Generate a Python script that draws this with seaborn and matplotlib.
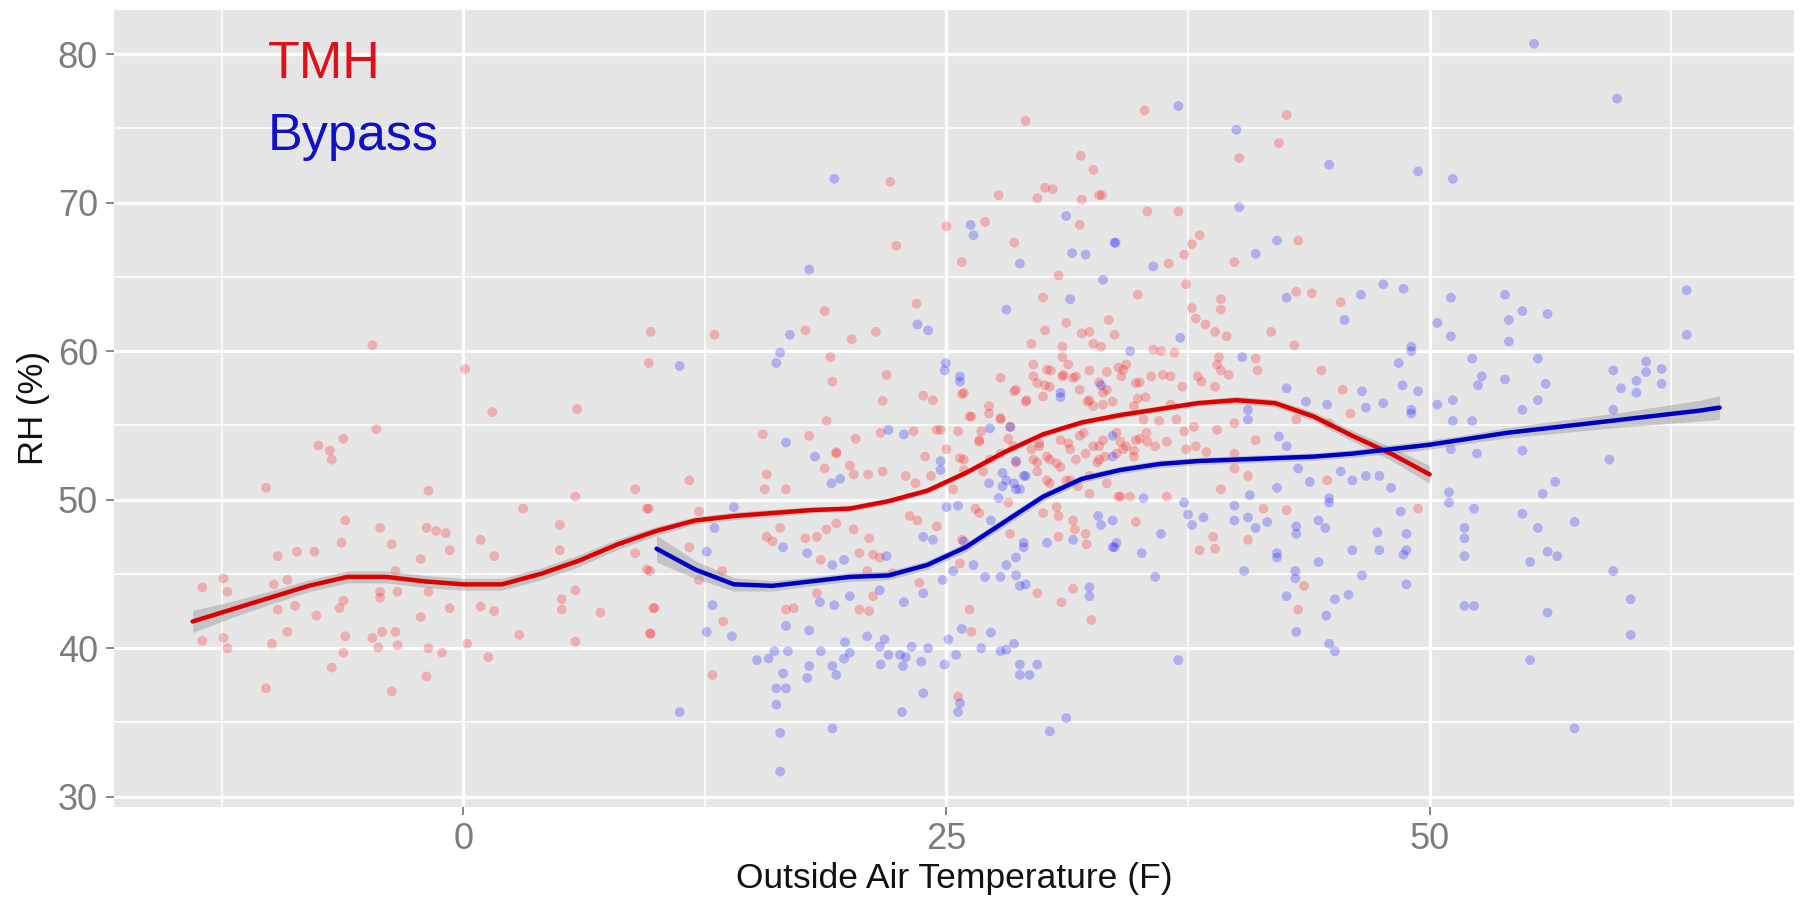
import matplotlib
matplotlib.use("Agg")
import matplotlib.pyplot as plt
import seaborn as sns
import pandas as pd
import numpy as np
from matplotlib.ticker import MultipleLocator

# ---------------- data ----------------
tmh_x = [1.5, 5.9, -4.5, -7.5, -6.9, -6.8, -6.2, -10.2, -1.8, 3.1, 5.8, 8.9, 9.5, -6.1, -4.3, -1.9, -1.4, -0.9,
         -6.3, -3.7, -9.6, -8.6, -7.7, -0.7, -2.2, 0.9, 1.6, 5.0, 5.0, 8.9, 9.5, -13.5, -12.4, -12.2, -9.1, -9.8,
         -3.5, -4.3, -4.3, -3.4, -1.8, -6.2, -6.4, -9.6, -8.7, -7.6, -2.2, -0.7, 0.9, 1.6, 5.1, 5.1, 5.8, 7.1, 9.9,
         -13.5, -12.4, -12.2, -9.9, -9.1, -6.1, -6.2, -4.7, -4.2, -3.5, -4.4, -3.4, -1.8, -1.1, 0.2, 1.3, 2.9, 5.8,
         9.7, -6.8, -1.9, -10.2, -3.7, -4.7, 0.1, 9.6, 9.7,
         29.1, 31.95, 32.6, 22.1, 30.1, 30.5, 27.7, 29.7, 32.0, 32.9, 31.9, 25.0, 27.0, 22.4, 28.5, 18.7, 13.0,
         17.7, 20.1, 21.35, 19.0, 19.1, 21.9, 21.7, 18.8, 15.5, 17.9, 20.3, 21.6, 19.3,
         18.7, 19.3, 20.0, 20.95, 21.7, 20.2, 15.7, 15.6, 16.7, 11.7, 9.6, 12.2, 11.7, 9.66, 9.83, 9.66, 12.2,
         13.4, 13.45, 12.9, 15.7, 16.0, 16.4, 17.7, 18.3, 18.8, 19.3, 20.2, 21.0, 18.5, 20.5, 21.2, 21.55, 20.9,
         22.2, 25.7, 29.7, 30.95, 31.55, 32.5, 23.6, 21.2, 20.5, 21.0, 18.3, 16.7, 17.1, 26.3, 26.2, 25.6,
         25.8, 30.8, 36.5, 37.3, 37.4, 23.45, 30.0, 34.9, 37.7, 37.9, 38.4, 38.9, 31.2, 33.4, 30.1, 32.0, 32.4,
         33.7, 29.4, 31.0, 32.6, 33.0, 35.7, 36.1, 36.8, 39.0, 25.8, 23.8, 24.3, 27.8, 28.5, 29.1, 29.5, 29.5,
         30.1, 30.4, 31.0, 31.3, 31.0, 31.55, 31.9, 32.3, 32.6, 33.1, 33.3, 33.9, 34.3, 34.05, 35.0, 35.3, 36.2,
         36.6, 35.6, 37.2, 38.0, 38.2, 38.9, 27.2, 27.2, 26.3, 27.8, 28.3, 33.6, 34.9, 34.7, 36.6, 35.2, 36.0,
         36.9, 37.8, 37.3, 39.0, 23.3, 24.5, 24.7, 25.6, 26.7, 26.8, 25.0, 23.9, 25.7, 25.9, 28.2, 28.45, 27.8,
         29.4, 29.8, 30.9, 31.3, 30.35, 30.7, 29.7, 31.9, 32.2, 32.9, 33.2, 32.8, 34.0, 34.3, 34.7, 35.0, 35.4,
         35.8, 36.4, 37.4, 37.9, 38.45, 22.9, 23.4, 24.2, 25.35, 26.9, 29.7, 30.2, 31.4, 31.8, 32.4, 33.3, 33.9,
         34.5, 36.4, 26.5, 26.7, 28.2, 23.1, 23.5, 24.5, 25.8, 28.3, 30.0, 30.7, 30.8, 31.55, 31.65, 30.8, 32.2,
         34.0, 34.8, 38.8, 32.25,
         35.25, 42.6, 42.2, 40.15, 33.05, 35.4, 37.0, 38.1, 37.7, 39.9, 43.2, 39.2, 39.2, 39.5, 43.1, 43.9, 45.4,
         41.8, 43.0, 39.1, 39.2, 39.6, 41.0, 41.1, 44.4, 45.5, 43.1, 44.8, 45.9, 39.9, 41.0, 39.9, 40.6, 39.9,
         49.4, 44.7, 39.2, 43.2, 43.5, 38.1, 38.9, 40.6, 41.4, 42.6,
         25.9, 28.6, 30.2, 31.05, 31.7, 32.4, 32.9, 33.3, 34.15, 34.8, 32.4, 33.1, 29.15, 30.0, 27.8, 26.7,
         26.2, 29.8, 31.4, 32.1, 32.6, 33.1, 33.8, 34.15, 34.8, 35.35, 28.6, 29.5, 30.2, 30.9, 31.7, 32.9, 33.8,
         34.7, 27.25, 25.9, 30.35, 31.2, 32.4, 29.7, 30.35]
tmh_y = [55.9, 56.1, 54.75, 53.65, 53.3, 52.7, 54.1, 50.8, 50.6, 49.4, 50.2, 50.7, 49.4, 48.6, 48.1, 48.1, 47.9,
         47.75, 47.1, 47.0, 46.2, 46.5, 46.5, 46.6, 46.0, 47.3, 46.2, 48.3, 46.6, 46.4, 45.3, 44.1, 44.7, 43.8,
         44.6, 44.3, 45.2, 43.8, 43.4, 43.8, 43.8, 43.2, 42.7, 42.6, 42.85, 42.2, 42.1, 42.7, 42.8, 42.5, 43.3,
         42.6, 43.9, 42.4, 42.7, 40.5, 40.7, 40.0, 40.3, 41.1, 40.8, 39.7, 40.7, 41.1, 41.1, 40.05, 40.2, 40.0,
         39.7, 40.3, 39.4, 40.9, 40.45, 40.97, 38.7, 38.1, 37.3, 37.1, 60.4, 58.8, 59.2, 61.3,
         75.5, 73.15, 72.2, 71.4, 71.0, 70.9, 70.5, 70.3, 70.2, 70.5, 68.5, 68.4, 68.7, 67.1, 67.3, 62.7, 61.1,
         61.4, 60.8, 61.3, 59.6, 57.95, 58.4, 56.65, 55.3, 54.4, 54.3, 54.1, 54.5, 53.2,
         52.1, 53.1, 52.3, 51.7, 51.9, 51.7, 51.7, 50.7, 50.7, 51.3, 49.4, 49.2, 46.8, 45.2, 42.7, 41.0, 44.6,
         45.2, 41.8, 38.2, 47.5, 47.2, 48.1, 47.4, 47.5, 48.0, 48.4, 48.0, 47.4, 45.95, 46.4, 46.3, 46.1, 45.2,
         45.05, 45.7, 43.7, 43.1, 44.0, 41.9, 44.4, 43.5, 42.6, 42.5, 43.7, 42.6, 42.7, 41.1, 42.6, 36.75,
         66.0, 65.1, 65.9, 66.5, 64.5, 63.2, 63.6, 63.8, 62.9, 62.2, 61.8, 61.3, 61.9, 62.1, 61.4, 61.2, 61.3,
         61.1, 60.5, 60.3, 60.5, 60.3, 60.1, 60.0, 59.9, 59.1, 57.1, 57.0, 56.7, 58.2, 57.3, 56.6, 59.1, 58.3,
         57.7, 58.7, 58.3, 59.1, 59.6, 58.2, 57.4, 56.6, 56.3, 57.2, 58.6, 58.9, 59.1, 58.3, 57.9, 56.9, 58.4,
         58.3, 58.3, 57.6, 58.3, 57.95, 57.6, 56.3, 55.8, 55.6, 55.5, 54.9, 56.6, 56.8, 56.3, 56.4, 55.4, 55.3,
         55.4, 54.9, 54.6, 54.7, 54.6, 54.7, 54.7, 54.6, 53.9, 54.6, 53.4, 52.9, 52.8, 52.0, 54.1, 53.6, 53.1,
         53.4, 53.6, 54.0, 53.8, 52.7, 52.45, 52.5, 54.3, 53.1, 53.6, 52.9, 52.5, 53.9, 53.6, 53.3, 54.1, 53.9,
         53.6, 53.9, 53.4, 53.6, 53.2, 51.6, 51.1, 51.6, 50.7, 51.9, 51.9, 51.3, 51.3, 50.9, 50.4, 51.1, 50.2,
         50.2, 50.2, 49.4, 49.1, 49.8, 48.9, 48.6, 48.2, 47.3, 47.7, 49.1, 49.5, 48.9, 48.6, 48.0, 47.5, 47.7,
         50.2, 48.5, 47.5, 47.0,
         76.2, 75.9, 74.0, 73.0, 70.5, 69.4, 69.4, 67.8, 67.2, 66.0, 67.45, 63.5, 62.8, 61.0, 64.0, 63.9, 63.3,
         61.3, 60.4, 59.6, 58.7, 58.4, 59.5, 58.7, 58.7, 57.4, 55.4, 55.15, 55.8, 55.15, 54.0, 53.1, 51.6, 52.1,
         49.4, 51.3, 50.7, 42.6, 44.2, 46.6, 46.7, 47.3, 49.4, 49.3,
         57.2, 57.4, 58.75, 58.4, 58.3, 58.7, 57.9, 57.4, 58.75, 57.85, 56.7, 56.4, 56.7, 56.95, 55.4, 54.0,
         55.6, 53.8, 53.4, 54.5, 53.6, 54.0, 54.5, 53.4, 54.0, 54.5, 52.5, 52.7, 52.9, 52.2, 52.7, 52.7, 53.1,
         52.9, 52.7, 52.7, 51.1, 51.3, 51.6, 57.85, 57.6]

byp_x = [19.2, 31.2, 26.25, 26.4, 33.7, 17.9, 16.9, 11.2, 16.4, 16.2, 16.7, 18.2, 22.0,
         19.05, 19.5, 14.0, 13.0, 12.6, 12.9, 12.6, 13.9, 11.2, 16.55, 17.8, 19.1, 19.7, 21.9, 24.8, 25.35, 26.4,
         27.0, 27.8, 28.6, 28.1, 28.8, 29.1, 28.6, 32.4, 32.4, 23.8, 22.8, 21.55, 19.2, 20.0, 16.7, 17.9, 18.45,
         15.2, 15.8, 16.1, 16.8, 16.55, 16.2, 16.7, 16.2, 16.4, 16.4, 17.8, 17.9, 18.5, 19.1, 19.3, 19.7, 20.0,
         19.75, 19.1, 20.9, 21.55, 21.8, 21.6, 22.0, 22.6, 22.9, 22.75, 23.2, 23.7, 24.05, 23.8, 22.7, 25.1, 25.8,
         25.5, 24.9, 25.7, 25.6, 27.3, 26.8, 27.8, 28.1, 28.5, 28.8, 29.7, 28.8, 29.3, 30.35, 31.2, 29.0, 31.55,
         33.6, 25.9,
         28.8, 31.5, 32.2, 33.1, 35.7, 23.5, 24.05, 28.1, 31.4, 37.1, 34.5, 24.97, 24.9, 25.7, 25.7, 30.9, 33.0,
         22.8, 33.6, 24.7, 24.7, 28.6, 33.6, 27.2, 28.1, 28.5, 28.8, 29.1, 35.2, 37.3, 25.0, 25.6, 27.7, 27.3,
         23.8, 24.3, 29.0, 32.85, 33.0, 33.6, 36.1, 37.5, 37.7, 38.3, 30.2, 33.8,
         37.0, 40.0, 44.8, 49.4, 51.2, 59.7, 40.15, 33.75, 41.0, 42.1, 42.6, 46.45, 47.6, 48.65, 45.6, 51.1,
         50.4, 51.1, 49.05, 49.05, 53.9, 54.8, 54.1, 56.1, 54.1, 63.3, 63.3, 40.3, 48.4, 52.2, 55.6, 52.7, 52.5,
         53.9, 56.0, 59.5, 61.2, 61.2, 62.0, 60.7, 59.9, 62.0, 60.7, 48.6, 49.4, 46.5, 47.6, 46.7, 49.05, 49.05,
         50.4, 51.2, 51.2, 52.2, 54.8, 55.6, 59.5, 43.6, 44.7, 42.6, 40.6, 40.6, 42.2, 42.6, 43.2, 55.4,
         51.1, 52.45, 54.8, 59.3, 56.5, 55.85, 51.0, 51.0, 52.3, 54.8, 55.6, 57.5, 51.8, 51.8, 51.8, 56.1, 56.6,
         55.2, 59.5, 60.4, 51.8, 52.3, 56.1, 60.4, 55.2, 57.5, 48.5, 48.8, 47.3, 48.8, 48.65, 47.4, 46.0, 48.8,
         46.5, 45.8, 45.1, 44.65, 43.1, 44.8, 45.1, 42.6, 43.05, 43.05, 44.25, 42.1, 42.1, 40.4, 37.0, 35.8,
         35.1, 33.7, 39.9, 40.6, 41.0, 41.6, 43.1, 43.1, 44.25, 44.6, 47.4, 48.0, 46.7, 46.0, 45.4, 44.8, 44.8,
         43.8, 42.1, 40.7, 39.9,
         30.9, 28.3, 27.25, 27.9, 29.0, 27.9, 28.6]
byp_y = [71.6, 69.1, 68.5, 67.8, 67.3, 65.5, 61.1, 59.0, 59.9, 59.2, 53.85, 52.9, 54.7,
         51.1, 51.4, 49.5, 48.1, 46.5, 42.9, 41.1, 40.8, 35.7, 46.8, 46.4, 45.6, 45.95, 46.2, 44.6, 45.2, 45.6,
         44.8, 44.8, 44.9, 45.6, 44.2, 44.3, 46.1, 44.1, 43.5, 43.7, 43.1, 43.9, 42.9, 43.5, 41.5, 41.2, 43.1,
         39.2, 39.3, 39.8, 39.8, 38.3, 37.3, 37.3, 36.2, 34.3, 31.7, 38.0, 38.8, 39.8, 38.8, 38.2, 39.3, 39.7,
         40.4, 34.6, 40.8, 40.1, 40.6, 38.9, 39.55, 39.55, 39.4, 38.8, 40.1, 39.1, 40.0, 36.97, 35.7, 40.6, 41.3,
         39.55, 38.9, 36.3, 35.7, 41.05, 40.0, 39.8, 39.9, 40.3, 38.9, 38.9, 38.2, 38.2, 34.4, 35.3, 46.8, 47.3,
         46.8, 47.2,
         65.9, 66.6, 66.5, 64.8, 65.7, 61.8, 61.4, 62.8, 63.5, 60.9, 60.0, 59.2, 58.7, 58.3, 57.95, 56.9, 57.7,
         54.4, 54.3, 52.6, 52.0, 52.6, 52.9, 51.1, 51.3, 51.1, 50.7, 51.6, 50.1, 49.8, 49.5, 49.6, 50.1, 48.6,
         47.5, 47.3, 47.1, 48.9, 48.3, 48.6, 47.7, 49.0, 48.3, 48.8, 47.1, 47.1,
         76.5, 74.9, 72.55, 72.1, 71.6, 77.0, 69.7, 67.3, 66.55, 67.45, 63.6, 63.8, 64.5, 64.2, 62.1, 63.6,
         61.9, 61.0, 60.3, 60.0, 63.8, 62.7, 62.1, 62.5, 60.65, 64.1, 61.1, 59.6, 59.2, 59.5, 59.5, 58.3, 57.7,
         58.1, 57.8, 58.7, 59.3, 58.6, 58.8, 58.0, 57.5, 57.8, 57.2, 57.7, 57.3, 57.3, 56.5, 56.2, 56.05, 55.8,
         56.4, 56.7, 55.3, 55.3, 56.05, 56.7, 56.05, 56.6, 56.4, 57.5, 56.05, 55.4, 54.25, 53.6, 52.1, 80.7,
         53.4, 53.1, 53.3, 52.7, 51.2, 50.4, 50.5, 49.8, 49.4, 49.05, 48.1, 48.5, 48.1, 47.4, 46.2, 46.5, 46.2,
         45.8, 45.2, 43.3, 42.85, 42.85, 42.4, 40.9, 39.2, 34.6, 49.2, 47.7, 47.8, 46.6, 46.3, 46.6, 46.6, 44.3,
         44.9, 43.6, 43.3, 42.2, 41.1, 40.3, 39.8, 43.5, 45.2, 44.7, 45.8, 46.4, 46.1, 45.2, 39.2, 44.8,
         46.4, 46.8, 48.6, 48.8, 48.1, 48.5, 48.2, 47.7, 48.6, 48.1, 51.6, 50.8, 51.6, 51.3, 51.9, 50.1, 49.8,
         51.2, 50.8, 50.3, 49.6,
         57.2, 54.9, 54.8, 51.8, 51.6, 50.9, 50.7]

# smoothed (loess) curves and their confidence half-widths
tmh_fit_x = [-14, -12, -10, -8, -6, -4, -2, 0, 2, 4, 6, 8, 10, 12, 14, 16, 18, 20, 22, 24, 26, 28, 30,
             32, 34, 36, 38, 40, 42, 44, 46, 48, 50]
tmh_fit_y = [41.8, 42.6, 43.4, 44.2, 44.8, 44.8, 44.5, 44.3, 44.3, 45.0, 45.9, 47.0, 47.9, 48.6, 48.9,
             49.1, 49.3, 49.4, 49.9, 50.6, 51.8, 53.2, 54.4, 55.2, 55.7, 56.1, 56.5, 56.7, 56.5, 55.6, 54.3,
             53.1, 51.7]
tmh_fit_se = [0.75, 0.55, 0.45, 0.4, 0.4, 0.4, 0.4, 0.4, 0.4, 0.4, 0.4, 0.35, 0.3, 0.25, 0.25, 0.25, 0.2,
              0.2, 0.2, 0.2, 0.2, 0.2, 0.2, 0.2, 0.2, 0.2, 0.2, 0.25, 0.25, 0.3, 0.35, 0.45, 0.6]
byp_fit_x = [10, 12, 14, 16, 18, 20, 22, 24, 26, 28, 30, 32, 34, 36, 38, 40, 42, 44, 46, 48, 50, 52, 54,
             56, 58, 60, 62, 64, 65]
byp_fit_y = [46.7, 45.3, 44.3, 44.2, 44.5, 44.8, 44.9, 45.6, 46.8, 48.5, 50.2, 51.4, 52.0, 52.4, 52.6,
             52.7, 52.8, 52.9, 53.1, 53.4, 53.7, 54.1, 54.5, 54.8, 55.1, 55.4, 55.7, 56.0, 56.2]
byp_fit_se = [0.9, 0.6, 0.45, 0.35, 0.3, 0.3, 0.3, 0.3, 0.3, 0.3, 0.3, 0.25, 0.25, 0.25, 0.25, 0.25, 0.25,
              0.25, 0.25, 0.3, 0.3, 0.3, 0.35, 0.4, 0.45, 0.5, 0.6, 0.7, 0.8]

x_ticks = [0, 25, 50]
y_ticks = [30, 40, 50, 60, 70, 80]
groups = ["TMH", "Bypass"]

# ---------------- build tables ----------------
pts = pd.concat([
    pd.DataFrame({"temp": tmh_x, "rh": tmh_y, "group": groups[0]}),
    pd.DataFrame({"temp": byp_x, "rh": byp_y, "group": groups[1]}),
], ignore_index=True)
fits = pd.concat([
    pd.DataFrame({"temp": tmh_fit_x, "rh": tmh_fit_y, "se": tmh_fit_se, "group": groups[0]}),
    pd.DataFrame({"temp": byp_fit_x, "rh": byp_fit_y, "se": byp_fit_se, "group": groups[1]}),
], ignore_index=True)

# ---------------- style ----------------
sns.set_theme(style="darkgrid")
plt.rcParams["font.family"] = ["Liberation Sans", "DejaVu Sans"]

point_pal = {"TMH": "#FF0000", "Bypass": "#0000FF"}
line_pal = {"TMH": "#DC0000", "Bypass": "#0000C4"}
text_col = {"TMH": "#E0101A", "Bypass": "#1010C8"}

fig = plt.figure(figsize=(18.09, 9.09), dpi=100)
fig.patch.set_facecolor("white")
ax = fig.add_axes([0.063, 0.1122, 0.9287, 0.877])
ax.set_facecolor("#E6E6E6")

sns.scatterplot(data=pts, x="temp", y="rh", hue="group", palette=point_pal, alpha=0.24,
                s=50, linewidth=0, legend=False, ax=ax, zorder=2)

for g in groups:
    d = fits[fits["group"] == g]
    ax.fill_between(d["temp"], d["rh"] - d["se"], d["rh"] + d["se"], color="#999999",
                    alpha=0.45, linewidth=0, zorder=3)
sns.lineplot(data=fits, x="temp", y="rh", hue="group", palette=line_pal, linewidth=3.2,
             legend=False, ax=ax, zorder=4, sort=True, estimator=None)

ax.text(-10.1, 78.4, "TMH", color=text_col["TMH"], fontsize=37.5, ha="left", va="baseline", zorder=5)
ax.text(-10.1, 73.55, "Bypass", color=text_col["Bypass"], fontsize=37.5, ha="left", va="baseline", zorder=5)

ax.set_xlim(-18.07, 68.85)
ax.set_ylim(29.31, 82.98)
ax.set_xticks(x_ticks)
ax.set_yticks(y_ticks)
ax.xaxis.set_minor_locator(MultipleLocator(12.5))
ax.yaxis.set_minor_locator(MultipleLocator(5))
ax.grid(which="major", color="white", linewidth=2.3)
ax.grid(which="minor", color="white", linewidth=1.1)
ax.set_axisbelow(True)
for s in ax.spines.values():
    s.set_visible(False)

ax.tick_params(axis="both", which="major", labelsize=26, labelcolor="#7D7D7D", color="#7D7D7D",
               length=5.5, width=1.3, bottom=True, left=True)
ax.tick_params(axis="x", pad=5)
ax.tick_params(axis="y", pad=6)
ax.tick_params(which="minor", length=0)

ax.set_xlabel("Outside Air Temperature (F)", fontsize=25.5, color="#111111", labelpad=4)
ax.set_ylabel("RH (%)", fontsize=25, color="#111111", labelpad=6)

fig.savefig("out.png", dpi=100, facecolor="white")
